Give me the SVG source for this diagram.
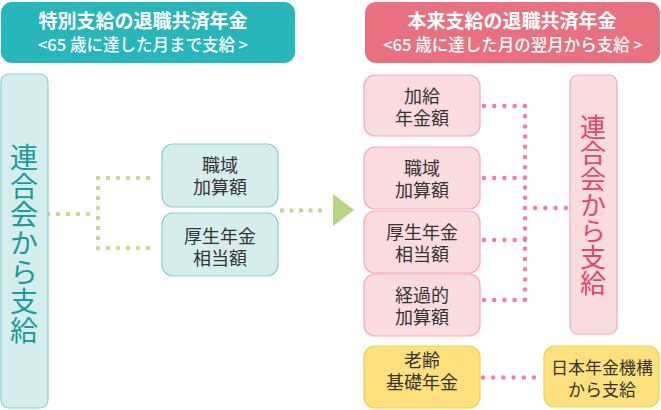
<svg xmlns="http://www.w3.org/2000/svg" width="661" height="410" viewBox="0 0 661 410">
<style>
text{font-family:"Noto Sans CJK JP","Noto Sans",sans-serif;}
.hd{fill:#fff;text-anchor:middle;}
.t1{font-size:19px;font-weight:bold;}
.t2{font-size:16.5px;font-weight:500;}
.bt{font-size:18px;fill:#333;text-anchor:middle;dominant-baseline:central;}
.vt{writing-mode:vertical-rl;text-anchor:middle;}
.teal{fill:#D6EDED;stroke:#86D1D1;stroke-width:1.2;}
.pink{fill:#FADCDF;stroke:#F5A9C2;stroke-width:1.2;}
.yel{fill:#FEE17C;stroke:#F2CF55;stroke-width:1.2;}
.gd{fill:none;stroke:#BDDA8C;stroke-width:4.5;stroke-linecap:round;stroke-dasharray:0 10;}
.pd{fill:none;stroke:#F27DAA;stroke-width:4.5;stroke-linecap:round;stroke-dasharray:0 10.2;}
</style>
<g id="header-left">
<rect x="1" y="2" width="294" height="61" rx="11" fill="#27B6BA"/>
<text class="hd t1" x="143" y="28">特別支給の退職共済年金</text>
<text class="hd t2" x="143" y="51">&lt;65 歳に達した月まで支給 &gt;</text>
</g>
<g id="header-right">
<rect x="365" y="2" width="295" height="61" rx="11" fill="#E9707F"/>
<text class="hd t1" x="512" y="28">本来支給の退職共済年金</text>
<text class="hd t2" x="513" y="51">&lt;65 歳に達した月の翌月から支給 &gt;</text>
</g>
<g id="connectors">
<path class="gd" d="M48 214 H98 M98 178 V248 M98 178 H158 M98 248 H158"/>
<path class="gd" style="stroke-dasharray:0 9.5" d="M282 210.5 H329.5"/>
<polygon points="333,194 354,210 333,226" fill="#B5D57E"/>
<path class="pd" d="M525 106 V300 M484 106 H525 M484 178 H525 M484 240 H525 M484 300 H525 M525 208 H568 M483 377.5 H544"/>
</g>
<g id="left-renkei">
<rect class="teal" x="1" y="74" width="47" height="334" rx="8"/>
<text class="vt" fill="#1A9C98" x="24" y="244" style="font-size:28px;letter-spacing:0.8px">連合会から支給</text>
</g>
<g id="left-shokuiki">
<rect class="teal" x="162" y="144" width="116" height="63" rx="11"/>
<text class="bt"><tspan x="220" y="164">職域</tspan><tspan x="220" y="186">加算額</tspan></text>
</g>
<g id="left-kosei">
<rect class="teal" x="162" y="213" width="116" height="63" rx="11"/>
<text class="bt"><tspan x="220" y="235">厚生年金</tspan><tspan x="220" y="257">相当額</tspan></text>
</g>
<g id="right-kakyu">
<rect class="pink" x="364" y="75" width="116" height="61" rx="11"/>
<text class="bt"><tspan x="422" y="95">加給</tspan><tspan x="422" y="117">年金額</tspan></text>
</g>
<g id="right-shokuiki">
<rect class="pink" x="364" y="147" width="116" height="62" rx="11"/>
<text class="bt"><tspan x="422" y="167">職域</tspan><tspan x="422" y="189">加算額</tspan></text>
</g>
<g id="right-kosei">
<rect class="pink" x="364" y="211" width="116" height="62" rx="11"/>
<text class="bt"><tspan x="422" y="231">厚生年金</tspan><tspan x="422" y="253">相当額</tspan></text>
</g>
<g id="right-keika">
<rect class="pink" x="364" y="274" width="116" height="62" rx="11"/>
<text class="bt"><tspan x="422" y="294">経過的</tspan><tspan x="422" y="316">加算額</tspan></text>
</g>
<g id="right-rorei">
<rect class="yel" x="364" y="346" width="116" height="62" rx="11"/>
<text class="bt"><tspan x="422" y="359">老齢</tspan><tspan x="422" y="381">基礎年金</tspan></text>
</g>
<g id="right-renkei">
<rect class="pink" x="570" y="75" width="47" height="259" rx="8"/>
<text class="vt" fill="#E4456B" x="593" y="205" style="font-size:26px">連合会から支給</text>
</g>
<g id="right-kikou">
<rect class="yel" x="544" y="346" width="115" height="61" rx="11"/>
<text class="bt" style="font-size:17px"><tspan x="602" y="366">日本年金機構</tspan><tspan x="602" y="388">から支給</tspan></text>
</g>
</svg>
